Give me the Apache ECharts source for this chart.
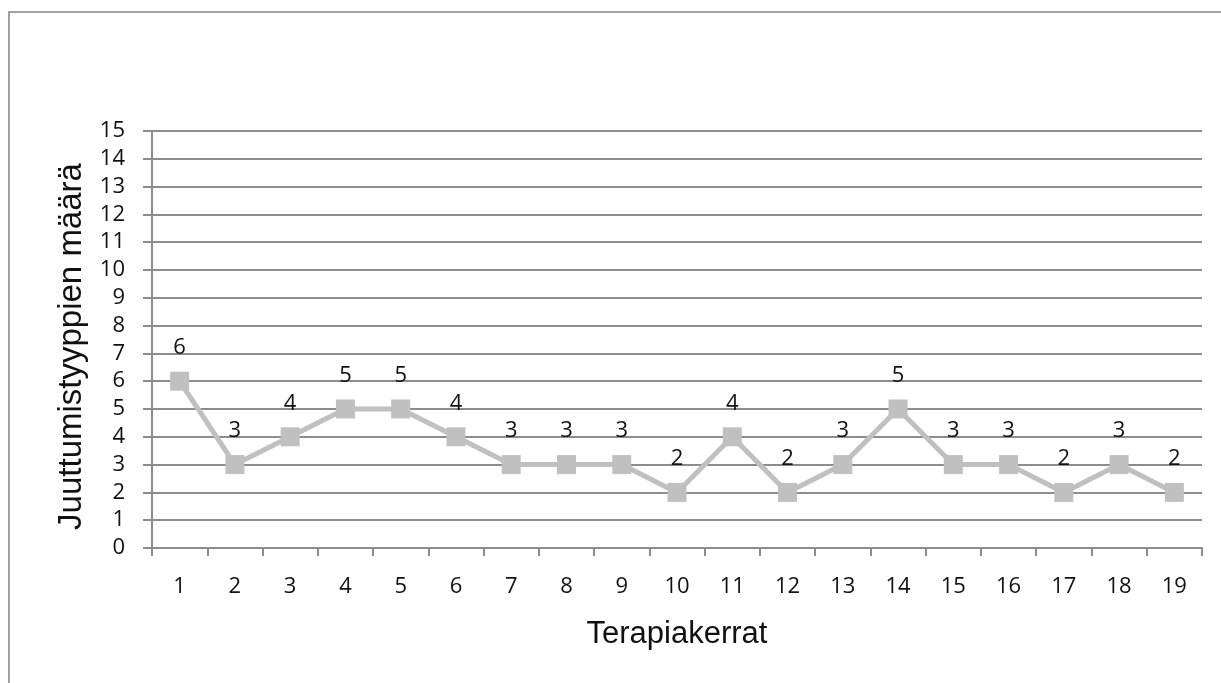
<!DOCTYPE html>
<html>
<head>
<meta charset="utf-8">
<script src="https://cdn.jsdelivr.net/npm/echarts@6/dist/echarts.min.js"></script>
<style>html,body{margin:0;padding:0;background:#fff;}#c{width:1221px;height:683px;}</style>
</head>
<body>
<div id="c"></div>
<script>
const categories = ['1','2','3','4','5','6','7','8','9','10','11','12','13','14','15','16','17','18','19'];
const values = [6,3,4,5,5,4,3,3,3,2,4,2,3,5,3,3,2,3,2];
const xTitle = 'Terapiakerrat';
const yTitle = 'Juuttumistyyppien määrä';

const chart = echarts.init(document.getElementById('c'));
const labelFont = '"Open Sans", sans-serif';
const titleFont = '"Liberation Sans", Arial, sans-serif';
chart.setOption({
  animation: false,
  backgroundColor: '#fff',
  graphic: [{
    type: 'polyline',
    shape: { points: [[9, 683], [9, 12], [1221, 12]] },
    style: { stroke: '#a0a0a0', lineWidth: 2, fill: null }
  }],
  grid: { left: 152, right: 19, top: 131, bottom: 135 },
  xAxis: {
    type: 'category',
    data: categories,
    boundaryGap: true,
    name: xTitle,
    nameLocation: 'middle',
    nameGap: 71,
    nameTextStyle: { fontFamily: titleFont, fontSize: 31, color: '#111' },
    axisLine: { show: true, lineStyle: { color: '#8c8c8c', width: 2 } },
    axisTick: { show: true, length: 8, alignWithLabel: false, lineStyle: { color: '#8c8c8c', width: 2 } },
    axisLabel: { fontFamily: labelFont, fontSize: 22, color: '#111', margin: 28, interval: 0 },
    splitLine: { show: false }
  },
  yAxis: {
    type: 'value',
    min: 0, max: 15, interval: 1,
    name: yTitle,
    nameLocation: 'middle',
    nameGap: 64,
    nameTextStyle: { fontFamily: titleFont, fontSize: 33, color: '#111', padding: [0, 14, 0, 0] },
    axisLine: { show: true, lineStyle: { color: '#8c8c8c', width: 2 } },
    axisTick: { show: true, length: 9, lineStyle: { color: '#8c8c8c', width: 2 } },
    axisLabel: { fontFamily: labelFont, fontSize: 22, color: '#111', margin: 27 },
    splitLine: { show: true, lineStyle: { color: '#8c8c8c', width: 2 } }
  },
  series: [{
    type: 'line',
    data: values,
    symbol: 'rect',
    symbolSize: 19,
    lineStyle: { color: '#c0c0c0', width: 5 },
    itemStyle: { color: '#c0c0c0' },
    label: {
      show: true,
      position: 'top',
      distance: 13,
      fontFamily: labelFont,
      fontSize: 22,
      color: '#111'
    }
  }]
});
</script>
</body>
</html>
